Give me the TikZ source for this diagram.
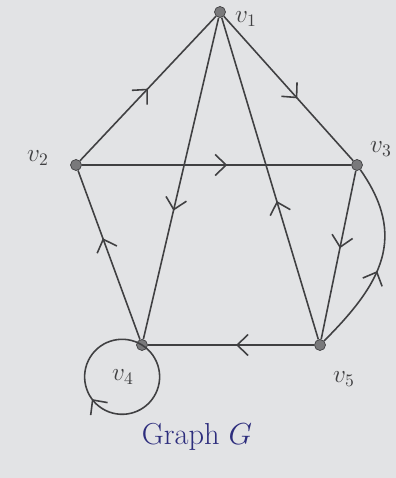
\documentclass[tikz,border=0pt]{standalone}
\usepackage{amsmath}
\usetikzlibrary{arrows.meta,decorations.markings}
\definecolor{paper}{RGB}{226,227,229}
\definecolor{pencil}{RGB}{64,64,66}
\definecolor{inkblue}{RGB}{45,45,125}

\begin{document}
\begin{tikzpicture}[
    vertex/.style={circle, fill=pencil!70, draw=pencil, inner sep=0pt, minimum size=2.2mm},
    vlabel/.style={font=\Large, pencil},
    dirarc/.style={draw, pencil, line width=0.9pt, postaction={decorate},
        decoration={markings, mark=at position #1 with {\arrow{Straight Barb[length=2.2mm, width=4.2mm, line width=0.9pt]}}}},
    dirarc/.default=0.5
]
\fill[paper] (0,0) rectangle (7.92,9.56);
\useasboundingbox (0,0) rectangle (7.92,9.56);

\node[vertex] (v1) at (4.40, 9.32) {};
\node[vertex] (v2) at (1.52, 6.26) {};
\node[vertex] (v3) at (7.14, 6.26) {};
\node[vertex] (v4) at (2.84, 2.66) {};
\node[vertex] (v5) at (6.40, 2.66) {};

\draw[dirarc=0.5] (v2) -- (v1);
\draw[dirarc=0.57] (v1) -- (v3);
\draw[dirarc=0.54] (v2) -- (v3);
\draw[dirarc=0.6] (v1) -- (v4);
\draw[dirarc=0.43] (v5) -- (v1);
\draw[dirarc=0.46] (v3) -- (v5);
\draw[dirarc=0.45] (v5) to[out=45, in=-55, looseness=1.2] (v3);
\draw[dirarc=0.47] (v5) -- (v4);
\draw[dirarc=0.6] (v4) -- (v2);

% loop at v4
\draw[dirarc=0.56] (v4.center) arc[start angle=58, end angle=-302, radius=0.75cm];

% labels
\node[vlabel] (l1) at (4.92, 9.18) {$v_1$};
\node[vlabel] (l2) at (0.76, 6.40) {$v_2$};
\node[vlabel] (l3) at (7.62, 6.58) {$v_3$};
\node[vlabel] (l4) at (2.46, 2.02) {$v_4$};
\node[vlabel] (l5) at (6.88, 1.98) {$v_5$};
\node[font=\LARGE, inkblue] (title) at (3.94, 0.82) {Graph $G$};
\end{tikzpicture}
\end{document}
